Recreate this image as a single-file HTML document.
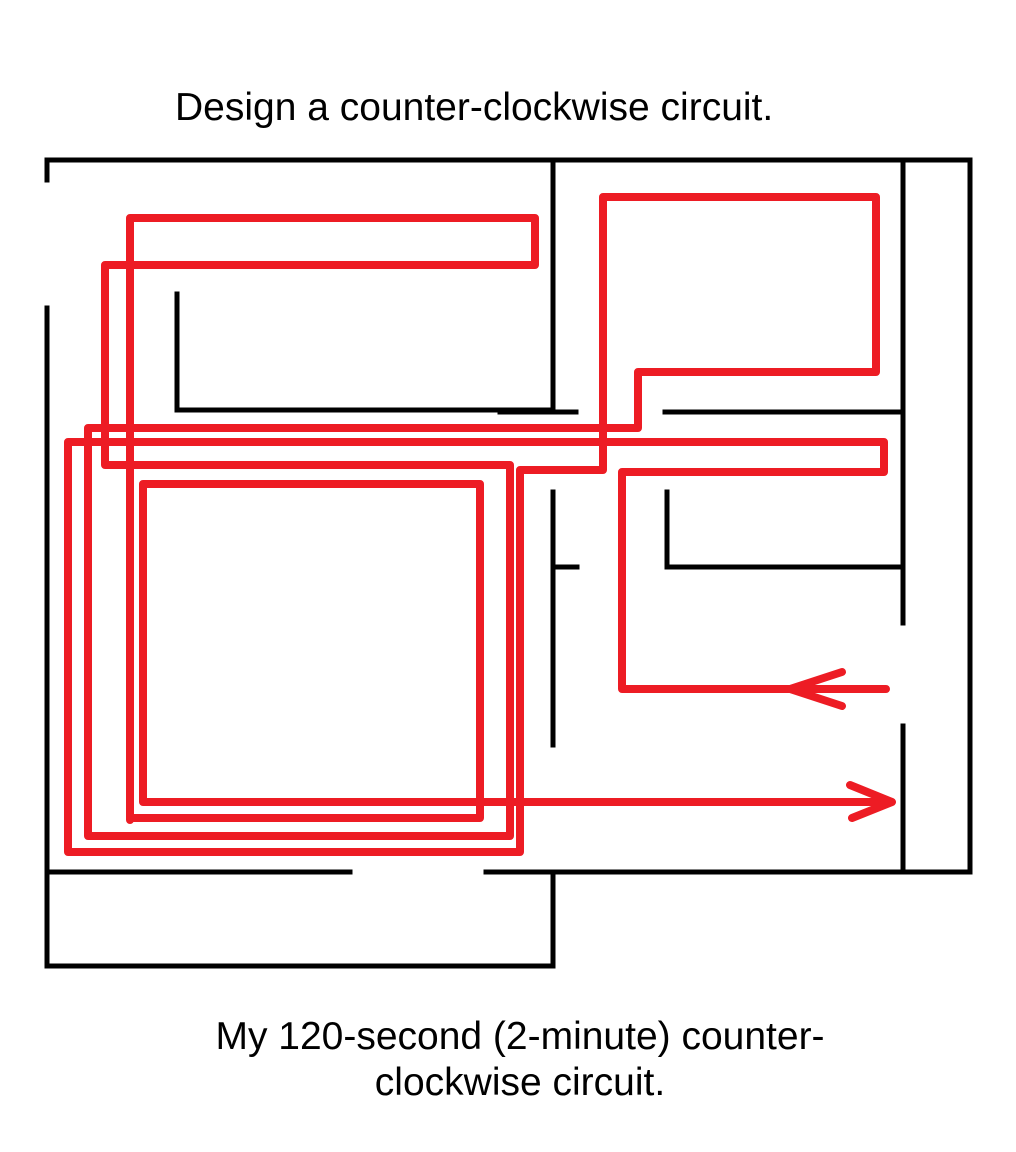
<!DOCTYPE html>
<html><head><style>
html,body{margin:0;padding:0;background:#fff;width:1016px;height:1152px;overflow:hidden}
.t{position:absolute;font-family:"Liberation Sans",Arial,sans-serif;font-size:39px;color:#000;white-space:nowrap}
</style></head><body>
<div class="t" style="left:175px;top:86px">Design a counter-clockwise circuit.</div>
<div class="t" style="left:0;width:1040px;text-align:center;top:1014px;line-height:46px">My 120-second (2-minute) counter-<br>clockwise circuit.</div>
<svg width="1016" height="1152" style="position:absolute;left:0;top:0" xmlns="http://www.w3.org/2000/svg">
<g stroke="#000" stroke-width="5" fill="none" stroke-linecap="square">
<path d="M47,180 V160 H970 V872"/>
<path d="M47,308 V966 H553 V872"/>
<path d="M47,872 H350 M486,872 H970"/>
<path d="M553,160 V412 M500,412 H576"/>
<path d="M177,294 V410 H553"/>
<path d="M665,412 H903 M903,160 V623 M903,726 V872"/>
<path d="M553,492 V745 M553,567 H577"/>
<path d="M667,492 V567 H903"/>
</g>
<g stroke="#ed1c24" stroke-width="8" fill="none" stroke-linecap="round" stroke-linejoin="round">
<path d="M130,820 V218 H535 V265 H105 V465 H510 V836 H88 V428 H638 V372 H876 V197 H603 V470 H520 V852 H68 V442 H884 V472 H622 V689 H886"/>
<path d="M842,672 L790,689 L842,706"/>
<path d="M130,818 H480 V484 H143 V802 H890"/>
<path d="M850,785 L892,802 L852,818"/>
</g>
</svg>
</body></html>
